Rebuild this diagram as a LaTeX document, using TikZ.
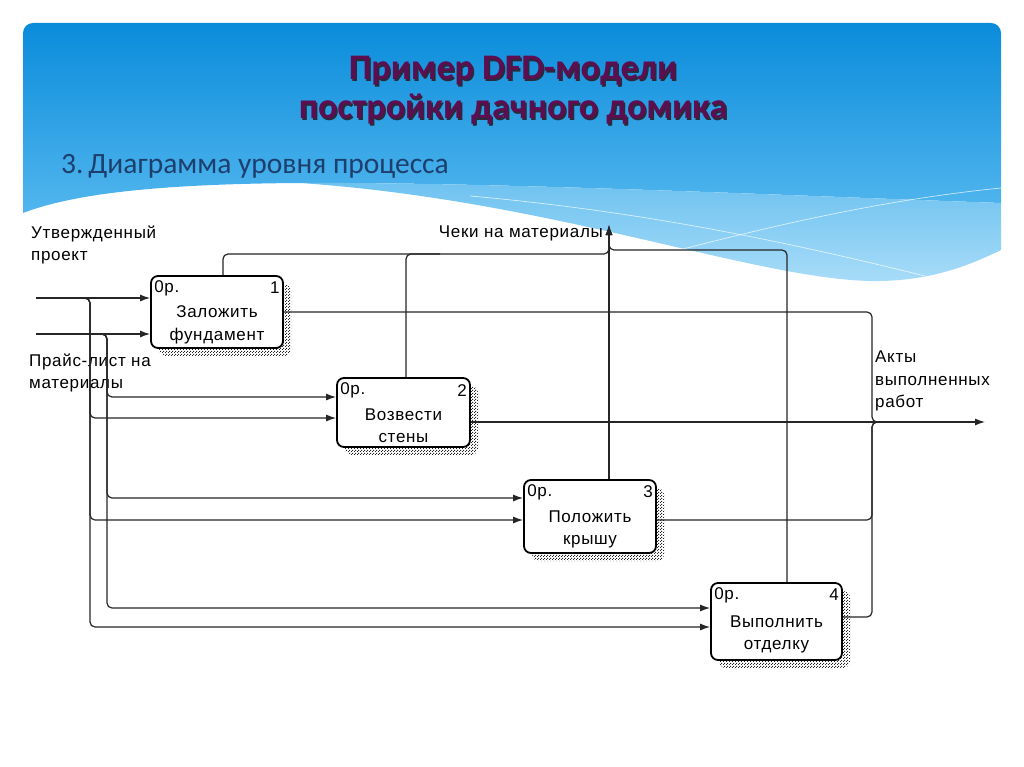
\documentclass[tikz,border=0pt]{standalone}
\usepackage{fontspec}
\setmainfont{Liberation Sans}
\newfontfamily\titlefont{Carlito}
\newfontfamily\diagfont[LetterSpace=4]{Liberation Sans}
\usetikzlibrary{patterns,arrows.meta,calc}
\pgfdeclarepatternformonly{stipple}{\pgfpointorigin}{\pgfqpoint{3pt}{3pt}}{\pgfqpoint{3pt}{3pt}}{%
  \pgfpathrectangle{\pgfpointorigin}{\pgfqpoint{1.3pt}{1.3pt}}%
  \pgfpathrectangle{\pgfqpoint{1.5pt}{1.5pt}}{\pgfqpoint{1.3pt}{1.3pt}}%
  \pgfusepath{fill}}
\definecolor{topblue}{HTML}{0A8CDB}
\definecolor{midblue}{HTML}{52B6EE}
\definecolor{bandtop}{HTML}{6EC2F0}
\definecolor{bandbot}{HTML}{A8DCF8}
\definecolor{titlecol}{HTML}{5C0E50}
\definecolor{titleshadow}{HTML}{2A2A3A}
\definecolor{subcol}{HTML}{1D3F6E}
\begin{document}
\begin{tikzpicture}[x=1pt,y=-1pt,
  procbox/.style={draw, line width=1.8pt, rounded corners=7pt, fill=white,
    preaction={pattern=stipple, pattern color=black!85,
      transform canvas={xshift=8pt,yshift=-8pt}}},
  lbl/.style={font=\diagfont\fontsize{17}{22.5}\selectfont, inner sep=0pt},
  conn/.style={line width=1.2pt, draw=black!85, rounded corners=5pt},
  arr/.style={conn, -{Latex[length=10pt,width=7pt]}},
  ttl/.style={font=\titlefont\bfseries\fontsize{36}{40}\selectfont, inner sep=0pt, anchor=base},
]
\useasboundingbox (0,0) rectangle (1024,767);
\fill[white] (0,0) rectangle (1024,767);
% header
\shade[top color=topblue, bottom color=midblue]
  (23,213) [rounded corners=10] -- (23,23) -- (1001,23) -- (1001,80) [sharp corners] -- (1001,203)
  .. controls (800,196) and (500,182) .. (300,183)
  .. controls (150,184) and (70,195) .. (23,213) -- cycle;
\shade[top color=bandtop, bottom color=bandbot]
  (300,183) .. controls (500,182) and (800,196) .. (1001,203) -- (1001,250)
  .. controls (970,265) and (930,282) .. (870,281)
  .. controls (750,278) and (550,200) .. (300,183) -- cycle;
\draw[white, opacity=0.7, line width=0.7pt] (470,196) .. controls (650,212) and (800,245) .. (925,276);
\draw[white, opacity=0.7, line width=0.7pt] (630,263) .. controls (760,228) and (880,200) .. (1001,188);
% titles
\node[ttl, text=titleshadow] at (514.5,81.5) {Пример DFD-модели};
\node[ttl, text=titlecol] (t1) at (513,80) {Пример DFD-модели};
\node[ttl, text=titleshadow] at (514.5,120.5) {постройки дачного домика};
\node[ttl, text=titlecol] (t2) at (513,119) {постройки дачного домика};
\node[font=\titlefont\fontsize{29.5}{32}\selectfont, text=subcol, anchor=base west, inner sep=0pt] (sub) at (61,174) {3.\,Диаграмма уровня процесса};
% boxes
\node[procbox, minimum width=132pt, minimum height=72pt] (b1) at (217,312) {};
\node[procbox, minimum width=133pt, minimum height=69pt] (b2) at (403.5,412.5) {};
\node[procbox, minimum width=132pt, minimum height=73pt] (b3) at (590,516.5) {};
\node[procbox, minimum width=131pt, minimum height=77pt] (b4) at (776.5,621.5) {};
\foreach \b/\n/\t in {b1/1/{Заложить\\фундамент}, b2/2/{Возвести\\стены}, b3/3/{Положить\\крышу}, b4/4/{Выполнить\\отделку}}{
  \node[lbl, anchor=west] (\b op) at ($(\b.north west)+(4,13)$) {0р.};
  \node[lbl, anchor=east] (\b num) at ($(\b.north east)+(-4,13)$) {\n};
  \node[lbl, align=center] (\b txt) at ($(\b.center)+(0,13)$) {\t};
}
% labels
\node[lbl, anchor=west, align=left] (utv) at (31,245) {Утвержденный\\проект};
\node[lbl, anchor=west, align=left] (price) at (29,373) {Прайс-лист на\\материалы};
\node[lbl, anchor=east] (cheki) at (603,233) {Чеки на материалы};
\node[lbl, anchor=west, align=left] (akty) at (875,381) {Акты\\выполненных\\работ};
% coordinates
\coordinate (inA) at (36,298);
\coordinate (inB) at (36,334);
\coordinate (outC) at (609,225);
\coordinate (outA) at (985,422);
% inputs
\draw[arr] (inA) -- (inA -| b1.west);
\draw[arr] (inB) -- (inB -| b1.west);
\draw[arr] (82,298) -| (90,418) -- (b2.west |- 0,418);
\draw[arr] (82,298) -| (90,520) -- (b3.west |- 0,520);
\draw[arr] (82,298) -| (90,627) -- (b4.west |- 0,627);
\draw[arr] (99,334) -| (107,397) -- (b2.west |- 0,397);
\draw[arr] (99,334) -| (107,498) -- (b3.west |- 0,498);
\draw[arr] (99,334) -| (107,608) -- (b4.west |- 0,608);
% controls-out to top
\draw[arr] (b1.north -| 223,0) |- (outC |- 0,254) -- (outC);
\draw[conn] (b2.north -| 406,0) |- (440,254);
\draw[arr] (b3.north -| 609,0) -- (outC);
\draw[arr] (b4.north -| 787,0) |- (outC |- 0,250) -- (outC);
% outputs
\draw[arr] (b2.east |- 0,422) -- (outA);
\draw[conn] (b1.east |- 0,312) -| (872,422) -- (900,422);
\draw[conn] (b3.east |- 0,520) -| (872,422) -- (900,422);
\draw[conn] (b4.east |- 0,617) -| (872,422) -- (900,422);
\end{tikzpicture}
\end{document}
